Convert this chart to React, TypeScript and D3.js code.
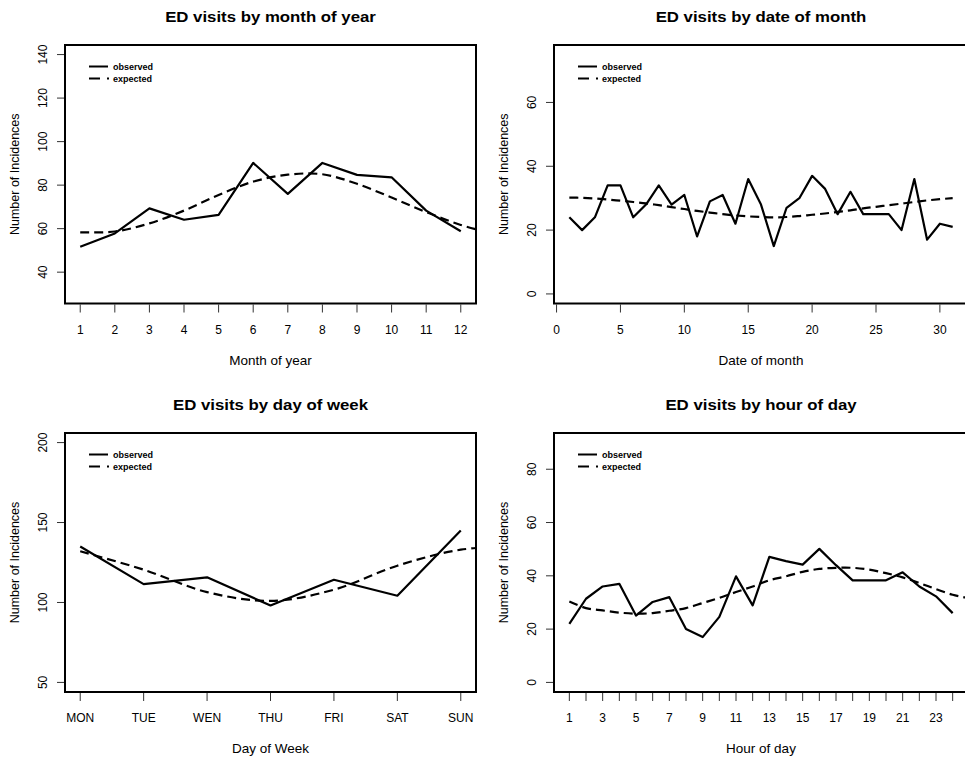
import React from "react";
import * as d3 from "d3";

const W = 965;
const H = 757;

// month of year
const monthX = [1, 2, 3, 4, 5, 6, 7, 8, 9, 10, 11, 12];
const monthObserved = [51.7, 57.8, 69.3, 64.1, 66.3, 90.2, 76, 90.2, 84.7, 83.6, 68.3, 58.8];
const monthExpectedX = [1, 2, 3, 4, 5, 6, 7, 8, 9, 10, 11, 12, 13];
const monthExpected = [58.3, 58.7, 62.4, 68.3, 75.5, 81.6, 84.8, 85, 80.6, 74.3, 67.6, 61.7, 57.4];
const monthYTicks = [40, 60, 80, 100, 120, 140];

// date of month
const dateX = d3.range(1, 32);
const dateObserved = [
  24, 20, 24, 34, 34, 24, 28, 34, 28, 31, 18, 29, 31, 22, 36, 28,
  15, 27, 30, 37, 33, 25, 32, 25, 25, 25, 20, 36, 17, 22, 21,
];
const dateExpected = [
  30.2, 30.1, 29.9, 29.6, 29.2, 28.8, 28.4, 27.8, 27.2, 26.6, 26.0, 25.5, 25.0, 24.6, 24.3, 24.1,
  24.0, 24.1, 24.4, 24.8, 25.2, 25.7, 26.2, 26.8, 27.3, 27.8, 28.3, 28.8, 29.3, 29.7, 30.0,
];
const dateXTicks = [0, 5, 10, 15, 20, 25, 30];
const dateYTicks = [0, 20, 40, 60];

// day of week
const weekX = [1, 2, 3, 4, 5, 6, 7];
const weekLabels = ["MON", "TUE", "WEN", "THU", "FRI", "SAT", "SUN"];
const weekObserved = [135, 111.5, 115.7, 98.1, 114.2, 104.2, 145];
const weekExpectedX = [1, 2, 3, 4, 5, 6, 7, 8];
const weekExpected = [132, 120.5, 106.5, 101, 108, 123, 133, 135.5];
const weekYTicks = [50, 100, 150, 200];

// hour of day
const hourX = d3.range(1, 25);
const hourObserved = [
  22, 31.4, 36, 37, 25.1, 30.2, 32, 20, 17, 24.6, 39.8, 28.9,
  47.1, 45.5, 44.2, 50.1, 44, 38.3, 38.3, 38.3, 41.3, 36, 32.3, 26,
];
const hourExpectedX = d3.range(1, 26);
const hourExpected = [
  30.4, 27.9, 27, 26.2, 25.8, 26, 26.9, 27.9, 29.8, 31.7, 33.9, 36, 38.3,
  39.8, 41.5, 42.6, 43, 43, 42.3, 41, 39.4, 37.3, 35, 32.9, 31.6,
];
const hourYTicks = [0, 20, 40, 60, 80];

const FONT = "'Liberation Sans', Arial, Helvetica, sans-serif";

// R style axis range: limits extended by 4%
const rRange = (lo: number, hi: number): [number, number] => {
  const pad = (hi - lo) * 0.04;
  return [lo - pad, hi + pad];
};

const LEFT = [65, 476];
const RIGHT = [554, 968];
const TOP = [45, 303.5];
const BOTTOM = [433, 692];

const panels = [
  {
    id: "p1",
    title: "ED visits by month of year",
    xLabel: "Month of year",
    xs: LEFT,
    ys: TOP,
    xlim: [1, 12],
    ylim: [30, 140],
    xTicks: monthX,
    xTickLabel: (v: number) => String(v),
    yTicks: monthYTicks,
    obsX: monthX,
    obs: monthObserved,
    expX: monthExpectedX,
    exp: monthExpected,
  },
  {
    id: "p2",
    title: "ED visits by date of month",
    xLabel: "Date of month",
    xs: RIGHT,
    ys: TOP,
    xlim: [1, 31],
    ylim: [0, 75],
    xTicks: dateXTicks,
    xTickLabel: (v: number) => String(v),
    yTicks: dateYTicks,
    obsX: dateX,
    obs: dateObserved,
    expX: dateX,
    exp: dateExpected,
  },
  {
    id: "p3",
    title: "ED visits by day of week",
    xLabel: "Day of Week",
    xs: LEFT,
    ys: BOTTOM,
    xlim: [1, 7],
    ylim: [50, 200],
    xTicks: weekX,
    xTickLabel: (v: number) => weekLabels[v - 1],
    yTicks: weekYTicks,
    obsX: weekX,
    obs: weekObserved,
    expX: weekExpectedX,
    exp: weekExpected,
  },
  {
    id: "p4",
    title: "ED visits by hour of day",
    xLabel: "Hour of day",
    xs: RIGHT,
    ys: BOTTOM,
    xlim: [1, 24],
    ylim: [0, 90],
    xTicks: hourX,
    xTickLabel: (v: number) => (v % 2 === 1 ? String(v) : ""),
    yTicks: hourYTicks,
    obsX: hourX,
    obs: hourObserved,
    expX: hourExpectedX,
    exp: hourExpected,
  },
];

type PanelSpec = (typeof panels)[number];

const Panel = ({ p }: { p: PanelSpec }) => {
  const [x0, x1] = p.xs;
  const [y0, y1] = p.ys;
  const x = d3.scaleLinear().domain(rRange(p.xlim[0], p.xlim[1])).range([x0, x1]);
  const y = d3.scaleLinear().domain(rRange(p.ylim[0], p.ylim[1])).range([y1, y0]);

  const obsLine = d3
    .line<number>()
    .x((_, i) => x(p.obsX[i]))
    .y((d) => y(d));
  const expLine = d3
    .line<number>()
    .x((_, i) => x(p.expX[i]))
    .y((d) => y(d))
    .curve(d3.curveCatmullRom);

  const cx = (x0 + x1) / 2;
  const yTickMin = p.yTicks[0];
  const yTickMax = p.yTicks[p.yTicks.length - 1];
  const xTickMin = p.xTicks[0];
  const xTickMax = p.xTicks[p.xTicks.length - 1];

  return (
    <g>
      <defs>
        <clipPath id={`clip-${p.id}`}>
          <rect x={x0} y={y0} width={x1 - x0} height={y1 - y0} />
        </clipPath>
      </defs>

      {/* the original plot is a bit stretched sideways */}
      <text
        transform={`translate(${cx},${y0 - 23}) scale(1.12,1)`}
        textAnchor="middle"
        fontSize={15}
        fontWeight="bold"
        fontFamily={FONT}
      >
        {p.title}
      </text>

      {/* y axis */}
      <line x1={x0} x2={x0} y1={y(yTickMin)} y2={y(yTickMax)} stroke="#000" strokeWidth={1} />
      {p.yTicks.map((t) => (
        <g key={`y${t}`}>
          <line x1={x0 - 8} x2={x0} y1={y(t)} y2={y(t)} stroke="#333" strokeWidth={1} />
          <text
            transform={`translate(${x0 - 18},${y(t)}) rotate(-90)`}
            textAnchor="middle"
            fontSize={12}
            fontFamily={FONT}
          >
            {t}
          </text>
        </g>
      ))}

      {/* x axis */}
      <line x1={x(xTickMin)} x2={x(xTickMax)} y1={y1} y2={y1} stroke="#000" strokeWidth={1} />
      {p.xTicks.map((t) => (
        <g key={`x${t}`}>
          <line x1={x(t)} x2={x(t)} y1={y1 + 1} y2={y1 + 9} stroke="#333" strokeWidth={1} />
          <text x={x(t)} y={y1 + 30} textAnchor="middle" fontSize={12} fontFamily={FONT}>
            {p.xTickLabel(t)}
          </text>
        </g>
      ))}

      <text x={cx} y={y1 + 61} textAnchor="middle" fontSize={13.5} fontFamily={FONT}>
        {p.xLabel}
      </text>
      <text
        transform={`translate(${x0 - 46},${(y0 + y1) / 2}) rotate(-90)`}
        textAnchor="middle"
        fontSize={12.5}
        fontFamily={FONT}
      >
        Number of Incidences
      </text>

      <g clipPath={`url(#clip-${p.id})`}>
        <path
          d={expLine(p.exp) ?? ""}
          fill="none"
          stroke="#000"
          strokeWidth={2.2}
          strokeDasharray="9 5"
        />
        <path
          d={obsLine(p.obs) ?? ""}
          fill="none"
          stroke="#000"
          strokeWidth={2.2}
          strokeLinejoin="round"
        />
      </g>

      {/* legend */}
      <line x1={x0 + 24} x2={x0 + 43} y1={y0 + 21.5} y2={y0 + 21.5} stroke="#000" strokeWidth={2} />
      <line
        x1={x0 + 24}
        x2={x0 + 44}
        y1={y0 + 33.5}
        y2={y0 + 33.5}
        stroke="#000"
        strokeWidth={2}
        strokeDasharray="11 7"
      />
      <text x={x0 + 48} y={y0 + 24.5} fontSize={9} fontWeight="bold" fontFamily={FONT}>
        observed
      </text>
      <text x={x0 + 48} y={y0 + 36.5} fontSize={9} fontWeight="bold" fontFamily={FONT}>
        expected
      </text>

      <rect x={x0} y={y0} width={x1 - x0} height={y1 - y0} fill="none" stroke="#000" strokeWidth={2} />
    </g>
  );
};

export default function App() {
  return (
    <svg
      width={W}
      height={H}
      style={{ position: "absolute", left: 0, top: 0, background: "#fff" }}
    >
      <rect width={W} height={H} fill="#fff" />
      {panels.map((p) => (
        <Panel key={p.id} p={p} />
      ))}
    </svg>
  );
}
